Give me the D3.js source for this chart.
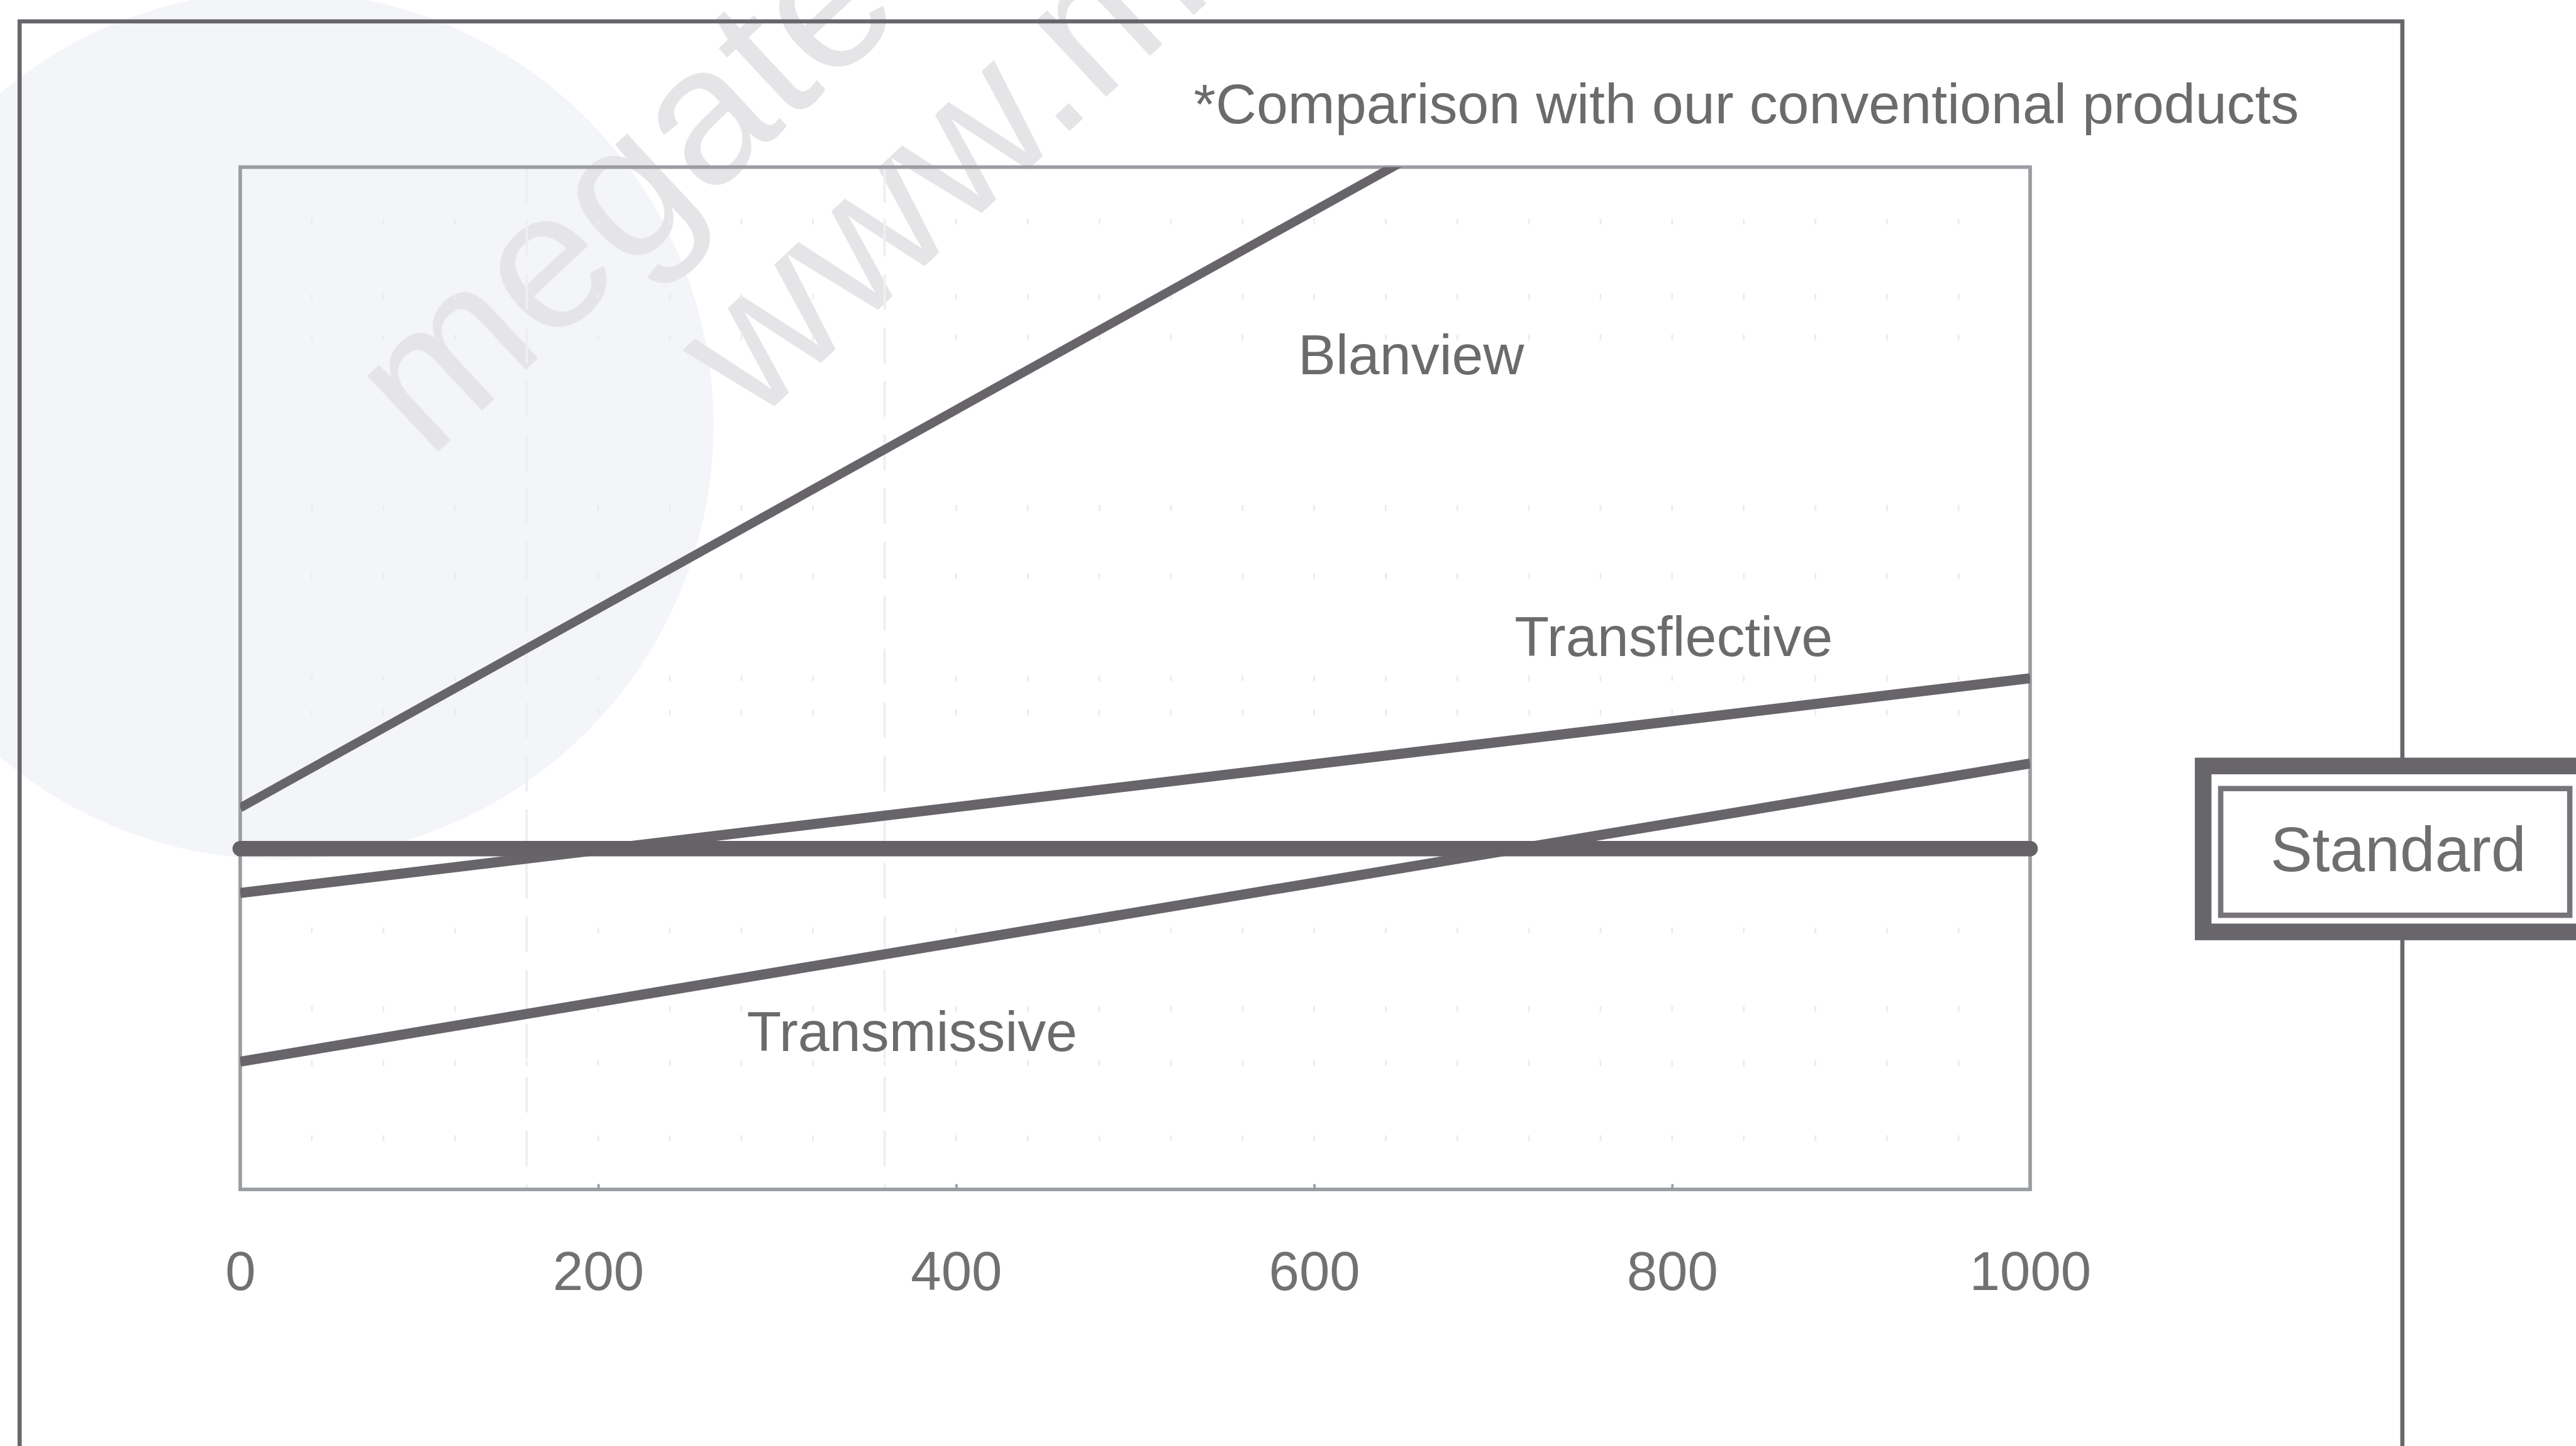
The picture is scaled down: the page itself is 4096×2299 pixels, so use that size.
<!DOCTYPE html>
<html>
<head>
<meta charset="utf-8">
<script src="https://cdn.jsdelivr.net/npm/d3@7"></script>
<style>
html, body { margin: 0; padding: 0; background: #fff; overflow: hidden; }
svg { display: block; }
text { font-family: "Liberation Sans", Arial, Helvetica, sans-serif; }
</style>
</head>
<body>
<div id="chart"></div>
<script>
// values (y is relative, Standard = 100)
var xDomain = [0, 1000];
var xTicks = [0, 200, 400, 600, 800, 1000];
var xPoints = [0, 1000];
var standardVals = [100, 100];
var blanviewVals = [112, 404];
var transflectiveVals = [87, 150];
var transmissiveVals = [37.5, 125];
var seriesNames = ['Blanview', 'Transflective', 'Transmissive'];
var noteText = '*Comparison with our conventional products';
var standardText = 'Standard';
var gridCols = [40, 80, 120, 160, 200, 240, 280, 320, 360, 400, 440, 480, 520, 560, 600, 640, 680, 720, 760, 800, 840, 880, 920, 960];
var gridRows = [284, 262, 250, 200, 180, 150, 140, 76, 53, 37, 15];
var dashedCols = [160, 360];

// reference size, drawn at window scale
var refW = 4332, refH = 2431;
var W = 4096, H = 2299;
var k = W / refW;

var lineColor = '#67646a';
var textColor = '#6b6b6b';

var svg = d3.select('#chart')
    .append('svg')
    .attr('width', W)
    .attr('height', H);

var root = svg.append('g')
    .attr('transform', 'scale(' + k + ')');

// plot box in reference pixels
var plot = { left: 404, right: 3414, top: 281, bottom: 2000 };

var x = d3.scaleLinear().domain(xDomain).range([plot.left, plot.right]);
var y = d3.scaleLinear().domain([0, 300]).range([plot.bottom, plot.top]);

// faint watermark
var wm = root.append('g').attr('class', 'watermark');
wm.append('circle')
    .attr('cx', 470).attr('cy', 715).attr('r', 730)
    .attr('fill', '#f4f5f9');
var wmText = wm.append('g')
    .attr('transform', 'translate(720,775) rotate(-43)')
    .attr('fill', '#e5e5e8')
    .style('font-size', '330px');
wmText.append('text').attr('x', 0).attr('y', 0).text('megate');
wmText.append('text').attr('x', 440).attr('y', 330).text('www.m');

// outer frame (bottom runs off the picture)
root.append('path')
    .attr('d', 'M33,2500 L33,36 L4040,36 L4040,2500')
    .attr('fill', 'none')
    .attr('stroke', '#69666b')
    .attr('stroke-width', 7);

// note
root.append('text')
    .attr('x', 3866).attr('y', 207)
    .attr('text-anchor', 'end')
    .attr('fill', textColor)
    .style('font-size', '95px')
    .text(noteText);

// faint dotted grid
var grid = root.append('g').attr('class', 'grid');
gridRows.forEach(function (r) {
    grid.selectAll(null)
        .data(gridCols)
        .enter().append('rect')
        .attr('x', function (d) { return x(d) - 1.5; })
        .attr('y', y(r) - 5)
        .attr('width', 3)
        .attr('height', 10)
        .attr('fill', '#ececee');
});
grid.selectAll('.dcol')
    .data(dashedCols)
    .enter().append('line')
    .attr('class', 'dcol')
    .attr('x1', function (d) { return x(d); })
    .attr('x2', function (d) { return x(d); })
    .attr('y1', plot.top)
    .attr('y2', plot.bottom)
    .attr('stroke', '#efeff1')
    .attr('stroke-width', 4)
    .attr('stroke-dasharray', '60 30');

// plot box
root.append('rect')
    .attr('x', plot.left).attr('y', plot.top)
    .attr('width', plot.right - plot.left)
    .attr('height', plot.bottom - plot.top)
    .attr('fill', 'none')
    .attr('stroke', '#9a9da1')
    .attr('stroke-width', 6);

// x axis: inward ticks + labels
var xAxis = d3.axisBottom(x)
    .tickValues(xTicks)
    .tickSize(-9)
    .tickPadding(170)
    .tickFormat(d3.format('d'));

var axisG = root.append('g')
    .attr('transform', 'translate(0,' + plot.bottom + ')')
    .call(xAxis);
axisG.select('.domain').remove();
axisG.selectAll('.tick line')
    .attr('stroke', '#9a9da1')
    .attr('stroke-width', 4);
axisG.selectAll('.tick text')
    .attr('fill', '#717171')
    .attr('dy', 0)
    .attr('y', 169)
    .style('font-size', '92px')
    .style('font-family', '"Liberation Sans", Arial, Helvetica, sans-serif');

// series lines
root.append('clipPath').attr('id', 'plotClip')
    .append('rect')
    .attr('x', plot.left).attr('y', plot.top)
    .attr('width', plot.right - plot.left)
    .attr('height', plot.bottom - plot.top);

var line = d3.line()
    .x(function (d) { return x(d[0]); })
    .y(function (d) { return y(d[1]); });

var series = [
    { name: seriesNames[0], vals: blanviewVals, w: 15 },
    { name: seriesNames[1], vals: transflectiveVals, w: 17 },
    { name: seriesNames[2], vals: transmissiveVals, w: 17 }
];

var lines = root.append('g').attr('clip-path', 'url(#plotClip)');
lines.selectAll('path')
    .data(series)
    .enter().append('path')
    .attr('d', function (s) {
        return line(xPoints.map(function (px, i) { return [px, s.vals[i]]; }));
    })
    .attr('fill', 'none')
    .attr('stroke', lineColor)
    .attr('stroke-width', function (s) { return s.w; });

// standard line
root.append('path')
    .attr('d', line(xPoints.map(function (px, i) { return [px, standardVals[i]]; })))
    .attr('fill', 'none')
    .attr('stroke', '#646167')
    .attr('stroke-width', 26)
    .attr('stroke-linecap', 'round');

// series labels, placed in data units
var labelPos = {
    'Blanview': [591, 239.3],
    'Transflective': [712, 156.5],
    'Transmissive': [283, 40.7]
};
root.selectAll('.slabel')
    .data(seriesNames)
    .enter().append('text')
    .attr('class', 'slabel')
    .attr('x', function (d) { return x(labelPos[d][0]); })
    .attr('y', function (d) { return y(labelPos[d][1]); })
    .attr('fill', textColor)
    .style('font-size', '95px')
    .text(function (d) { return d; });

// Standard box, cut off at the right edge
var midY = y(standardVals[0]);
root.append('rect')
    .attr('x', 3705).attr('y', midY - 139)
    .attr('width', 800).attr('height', 279)
    .attr('fill', '#fff')
    .attr('stroke', '#69666b')
    .attr('stroke-width', 28);
root.append('rect')
    .attr('x', 3734.5).attr('y', midY - 101)
    .attr('width', 587).attr('height', 213)
    .attr('fill', 'none')
    .attr('stroke', '#77737a')
    .attr('stroke-width', 9);
root.append('text')
    .attr('x', 4033).attr('y', 1465)
    .attr('text-anchor', 'middle')
    .attr('fill', '#6e6e6e')
    .style('font-size', '106px')
    .text(standardText);
</script>
</body>
</html>
